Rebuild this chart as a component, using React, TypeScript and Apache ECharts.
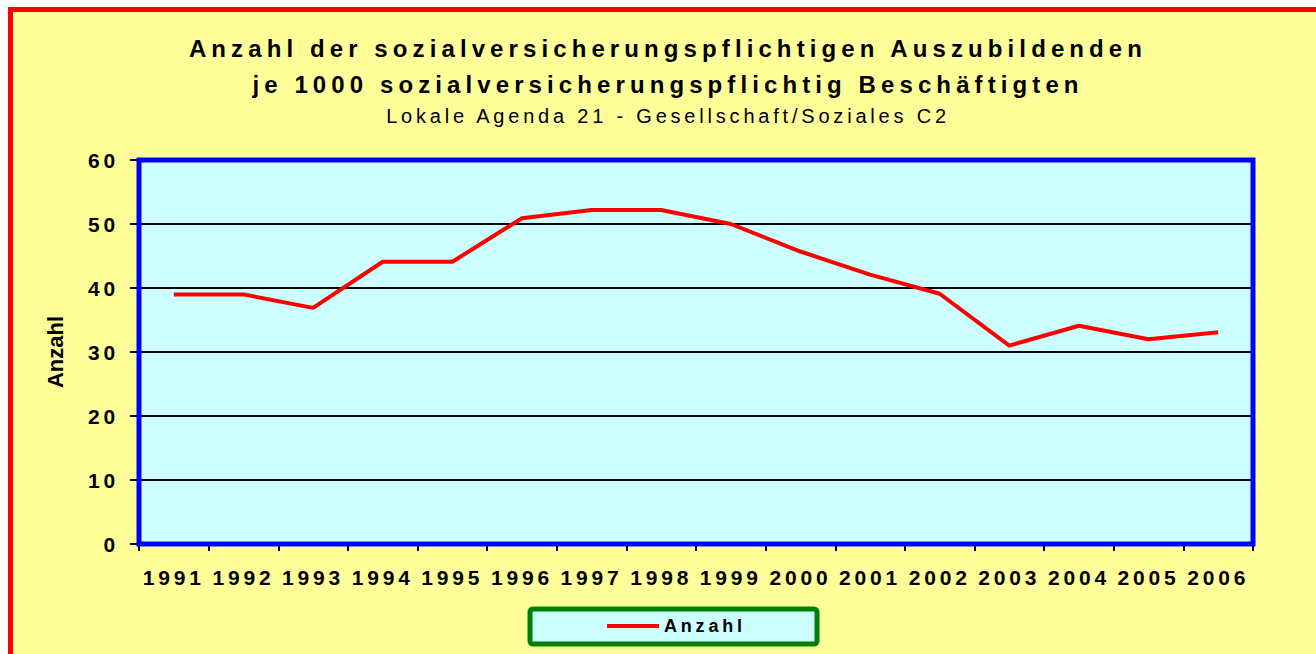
import React, { useEffect, useRef } from "react";
import * as echarts from "echarts";

// ---- data ----
const years = [
  "1991", "1992", "1993", "1994", "1995", "1996", "1997", "1998",
  "1999", "2000", "2001", "2002", "2003", "2004", "2005", "2006",
];
const anzahl = [39.0, 39.0, 36.9, 44.1, 44.1, 50.9, 52.2, 52.2, 50.0, 45.7, 42.1, 39.1, 31.0, 34.1, 32.0, 33.1];
const yMin = 0;
const yMax = 60;
const yStep = 10;
const titleLines = [
  "Anzahl der sozialversicherungspflichtigen Auszubildenden",
  "je 1000 sozialversicherungspflichtig Beschäftigten",
];
const subtitle = "Lokale Agenda 21 - Gesellschaft/Soziales C2";
const seriesName = "Anzahl";
const yAxisName = "Anzahl";

const FONT = '"Liberation Sans", Arial, sans-serif';

export default function App() {
  const ref = useRef<HTMLDivElement>(null);

  useEffect(() => {
    if (!ref.current) return;
    const chart = echarts.init(ref.current, undefined, { renderer: "svg" });
    chart.setOption({
      animation: false,
      backgroundColor: "transparent",
      title: {
        text: titleLines.join("\n"),
        subtext: subtitle,
        left: 668,
        top: 30,
        padding: 0,
        textAlign: "center",
        itemGap: 4,
        textStyle: {
          fontFamily: FONT,
          fontSize: 24,
          fontWeight: "bold",
          color: "#000",
          lineHeight: 36,
        },
        subtextStyle: {
          fontFamily: FONT,
          fontSize: 20,
          fontWeight: "normal",
          color: "#000",
          lineHeight: 20,
        },
      },
      legend: {
        data: [seriesName],
        left: 530,
        top: 609,
        padding: [8, 94, 9, 77],
        backgroundColor: "#CCFFFF",
        borderColor: "#008000",
        borderWidth: 5,
        borderRadius: 3,
        icon: "rect",
        itemWidth: 52,
        itemHeight: 4,
        selectedMode: false,
        textStyle: { fontFamily: FONT, fontSize: 18, fontWeight: "bold", color: "#000" },
      },
      grid: {
        left: 139,
        top: 160,
        width: 1114,
        height: 384,
        show: true,
        backgroundColor: "#CCFFFF",
        borderWidth: 0,
        containLabel: false,
      },
      xAxis: {
        type: "category",
        data: years,
        boundaryGap: true,
        axisLine: { show: false },
        axisTick: {
          show: true,
          length: 7,
          alignWithLabel: false,
          lineStyle: { color: "#000", width: 2 },
        },
        axisLabel: {
          interval: 0,
          margin: 23,
          fontFamily: FONT,
          fontSize: 21,
          fontWeight: "bold",
          color: "#000",
        },
        splitLine: { show: false },
      },
      yAxis: {
        type: "value",
        min: yMin,
        max: yMax,
        interval: yStep,
        name: yAxisName,
        nameLocation: "middle",
        nameRotate: 90,
        nameGap: 73,
        nameTextStyle: { fontFamily: FONT, fontSize: 22, fontWeight: "bold", color: "#000" },
        axisLine: { show: false },
        axisTick: { show: true, length: 9, lineStyle: { color: "#000", width: 2 } },
        axisLabel: {
          margin: 20,
          fontFamily: FONT,
          fontSize: 21,
          fontWeight: "bold",
          color: "#000",
        },
        splitLine: { show: true, lineStyle: { color: "#000", width: 2 } },
      },
      graphic: [
        {
          type: "rect",
          z: 100,
          silent: true,
          shape: { x: 139, y: 160, width: 1114, height: 384 },
          style: { fill: "transparent", stroke: "#0000FF", lineWidth: 5 },
        },
      ],
      series: [
        {
          name: seriesName,
          type: "line",
          data: anzahl,
          symbol: "none",
          showSymbol: false,
          color: "#FF0000",
          lineStyle: { color: "#FF0000", width: 4 },
          z: 5,
        },
      ],
    });
    return () => chart.dispose();
  }, []);

  return (
    <div
      style={{
        position: "fixed",
        left: 0,
        top: 0,
        width: 1316,
        height: 654,
        background: "#FFFFFF",
        overflow: "hidden",
      }}
    >
      <style>{`
        #chart text[style*="24px"] { letter-spacing: 5.1px; }
        #chart text[style*="20px"] { letter-spacing: 3.8px; }
        #chart text[style*="21px"] { letter-spacing: 3.8px; }
        #chart text[style*="18px"] { letter-spacing: 3.8px; }
      `}</style>
      <div
        style={{
          position: "absolute",
          left: 8,
          top: 7,
          width: 1400,
          height: 800,
          boxSizing: "border-box",
          border: "5px solid #FF0000",
          background: "#FFFF99",
        }}
      />
      <div
        id="chart"
        ref={ref}
        style={{ position: "absolute", left: 0, top: 0, width: 1316, height: 654 }}
      />
    </div>
  );
}
